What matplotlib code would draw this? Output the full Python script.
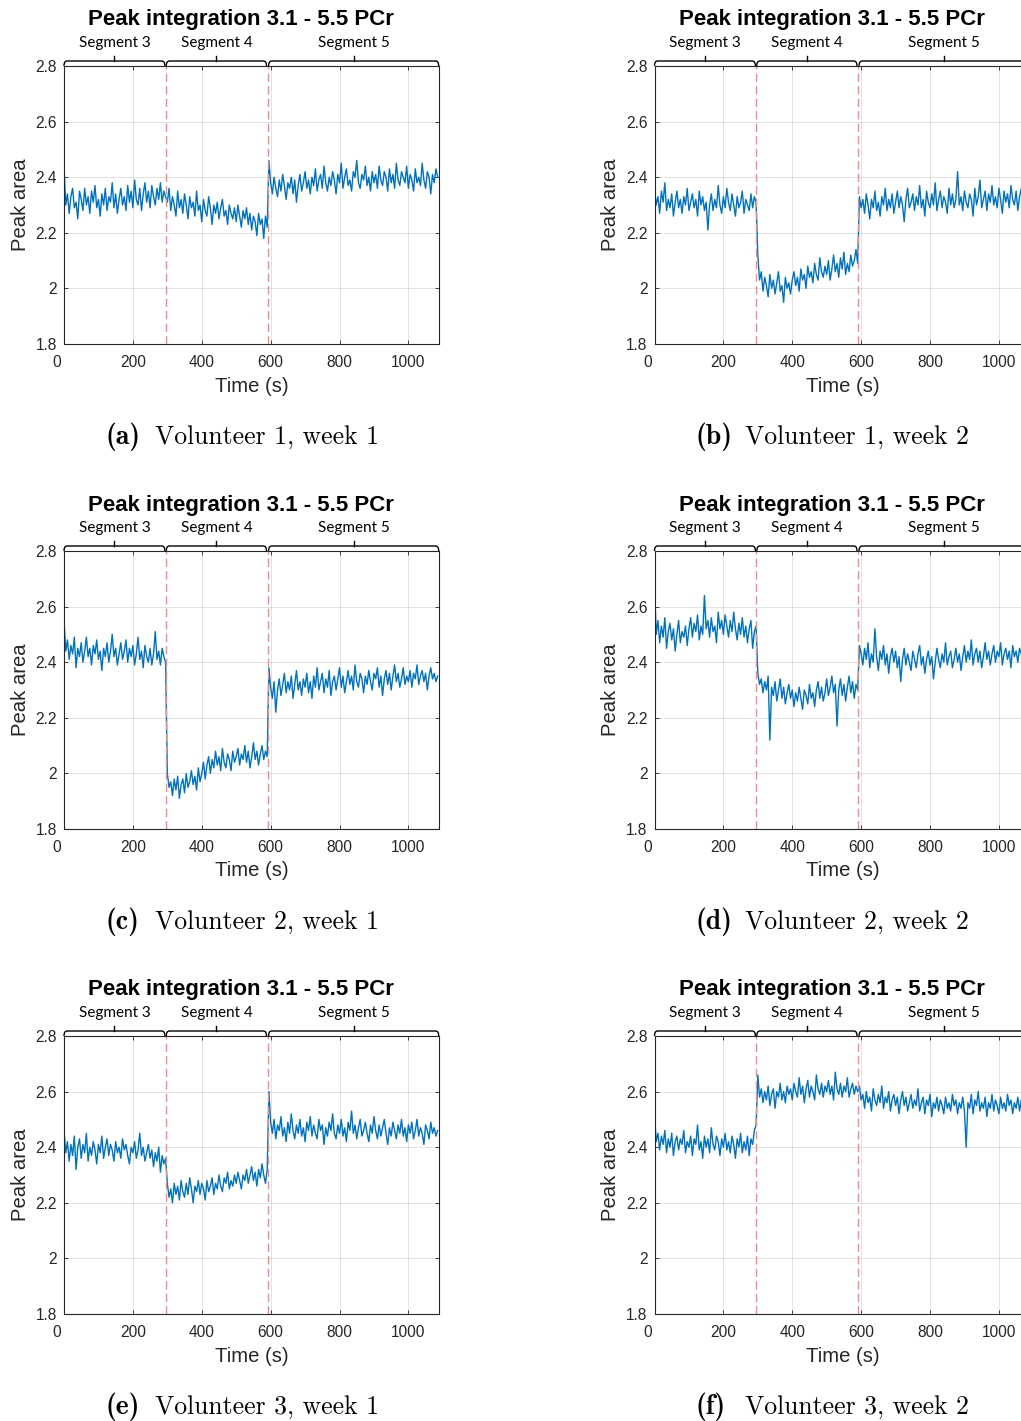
import numpy as np
import matplotlib.pyplot as plt
from matplotlib.path import Path
from matplotlib.patches import PathPatch
from matplotlib.transforms import blended_transform_factory, ScaledTranslation

# values, one every 5 s (0 .. 1085 s)
time_s = np.arange(0, 1090, 5)

vol1_week1 = [
    2.44, 2.30, 2.34, 2.27, 2.33, 2.36, 2.29, 2.31, 2.25, 2.35, 2.32, 2.28, 2.36, 2.30, 2.33, 2.27, 2.35, 2.31, 2.37, 2.29,
    2.32, 2.26, 2.34, 2.30, 2.36, 2.28, 2.33, 2.31, 2.38, 2.29, 2.34, 2.27, 2.32, 2.36, 2.30, 2.33, 2.28, 2.37, 2.31, 2.35,
    2.29, 2.39, 2.32, 2.30, 2.36, 2.28, 2.34, 2.38, 2.31, 2.35, 2.29, 2.37, 2.33, 2.30, 2.36, 2.32, 2.38, 2.31, 2.35, 2.33,
    2.31, 2.36, 2.28, 2.33, 2.30, 2.26, 2.35, 2.29, 2.32, 2.27, 2.34, 2.30, 2.25, 2.33, 2.29, 2.31, 2.26, 2.35, 2.28, 2.30,
    2.24, 2.32, 2.28, 2.26, 2.33, 2.29, 2.23, 2.30, 2.27, 2.31, 2.25, 2.29, 2.32, 2.26, 2.28, 2.23, 2.30, 2.27, 2.25, 2.29,
    2.24, 2.30, 2.26, 2.22, 2.28, 2.25, 2.29, 2.23, 2.27, 2.21, 2.26, 2.24, 2.19, 2.27, 2.23, 2.25, 2.18, 2.26, 2.22,
    2.46, 2.38, 2.34, 2.40, 2.36, 2.33, 2.39, 2.35, 2.41, 2.37, 2.32, 2.38, 2.36, 2.40, 2.34, 2.39, 2.31, 2.37, 2.41, 2.35,
    2.38, 2.42, 2.36, 2.39, 2.34, 2.40, 2.37, 2.43, 2.35, 2.39, 2.41, 2.36, 2.44, 2.38, 2.35, 2.40, 2.37, 2.42, 2.39, 2.34,
    2.41, 2.38, 2.45, 2.36, 2.40, 2.43, 2.37, 2.39, 2.35, 2.42, 2.40, 2.46, 2.38, 2.36, 2.41, 2.39, 2.44, 2.37, 2.40, 2.35,
    2.42, 2.38, 2.41, 2.36, 2.44, 2.39, 2.37, 2.42, 2.40, 2.35, 2.43, 2.38, 2.41, 2.36, 2.45, 2.39, 2.37, 2.42, 2.40, 2.38,
    2.44, 2.36, 2.41, 2.39, 2.35, 2.43, 2.38, 2.40, 2.37, 2.45, 2.39, 2.36, 2.42, 2.40, 2.34, 2.41, 2.38, 2.43, 2.40,
]

vol1_week2 = [
    2.36, 2.30, 2.33, 2.27, 2.35, 2.31, 2.38, 2.28, 2.32, 2.29, 2.34, 2.26, 2.31, 2.35, 2.29, 2.32, 2.27, 2.33, 2.30, 2.36,
    2.28, 2.31, 2.34, 2.29, 2.32, 2.26, 2.35, 2.30, 2.33, 2.28, 2.31, 2.21, 2.30, 2.34, 2.28, 2.32, 2.29, 2.37, 2.30, 2.27,
    2.33, 2.29, 2.36, 2.31, 2.28, 2.34, 2.30, 2.26, 2.33, 2.29, 2.31, 2.35, 2.27, 2.32, 2.30, 2.28, 2.34, 2.29, 2.33, 2.31,
    2.12, 2.03, 2.06, 1.99, 2.04, 2.01, 1.97, 2.05, 2.00, 2.03, 1.98, 2.02, 2.06, 1.99, 2.01, 1.95, 2.04, 2.00, 2.02, 1.98,
    2.03, 2.06, 2.01, 2.04, 1.99, 2.07, 2.03, 2.05, 2.00, 2.08, 2.04, 2.06, 2.02, 2.09, 2.05, 2.03, 2.11, 2.06, 2.04, 2.08,
    2.05, 2.10, 2.03, 2.07, 2.12, 2.06, 2.09, 2.04, 2.11, 2.07, 2.13, 2.05, 2.09, 2.06, 2.12, 2.08, 2.10, 2.14, 2.09,
    2.33, 2.29, 2.32, 2.27, 2.34, 2.30, 2.25, 2.32, 2.29, 2.35, 2.28, 2.31, 2.26, 2.33, 2.30, 2.36, 2.28, 2.32, 2.29, 2.34,
    2.27, 2.31, 2.35, 2.29, 2.33, 2.30, 2.24, 2.32, 2.36, 2.29, 2.31, 2.34, 2.28, 2.33, 2.30, 2.37, 2.29, 2.32, 2.26, 2.35,
    2.31, 2.29, 2.34, 2.30, 2.38, 2.28, 2.32, 2.35, 2.29, 2.33, 2.31, 2.27, 2.36, 2.30, 2.34, 2.29, 2.32, 2.42, 2.30, 2.33,
    2.28, 2.35, 2.31, 2.29, 2.34, 2.32, 2.26, 2.36, 2.30, 2.33, 2.39, 2.29, 2.32, 2.35, 2.28, 2.34, 2.31, 2.37, 2.30, 2.33,
    2.29, 2.36, 2.32, 2.27, 2.35, 2.31, 2.34, 2.29, 2.37, 2.32, 2.30, 2.35, 2.28, 2.33, 2.36, 2.30, 2.34, 2.31, 2.35,
]

vol2_week1 = [
    2.55, 2.44, 2.48, 2.41, 2.46, 2.43, 2.49, 2.38, 2.45, 2.42, 2.47, 2.40, 2.44, 2.49, 2.42, 2.45, 2.39, 2.46, 2.43, 2.48,
    2.41, 2.44, 2.37, 2.45, 2.42, 2.47, 2.40, 2.44, 2.50, 2.42, 2.45, 2.39, 2.43, 2.47, 2.41, 2.44, 2.48, 2.40, 2.45, 2.42,
    2.46, 2.39, 2.43, 2.49, 2.41, 2.44, 2.38, 2.46, 2.42, 2.40, 2.45, 2.39, 2.43, 2.51, 2.41, 2.44, 2.39, 2.45, 2.42, 2.40,
    2.00, 1.95, 1.97, 1.92, 1.98, 1.94, 1.99, 1.91, 1.96, 1.98, 1.93, 2.00, 1.95, 1.97, 2.01, 1.96, 1.99, 1.94, 2.02, 1.97,
    2.00, 2.04, 1.98, 2.03, 2.06, 2.00, 2.05, 2.02, 2.08, 2.03, 2.06, 2.01, 2.09, 2.04, 2.02, 2.07, 2.05, 2.01, 2.08, 2.04,
    2.06, 2.09, 2.03, 2.07, 2.05, 2.10, 2.04, 2.08, 2.02, 2.06, 2.11, 2.05, 2.08, 2.03, 2.07, 2.10, 2.05, 2.08, 2.06,
    2.38, 2.31, 2.27, 2.33, 2.22, 2.30, 2.34, 2.28, 2.32, 2.36, 2.29, 2.33, 2.30, 2.35, 2.27, 2.32, 2.37, 2.30, 2.33, 2.28,
    2.34, 2.31, 2.36, 2.29, 2.33, 2.27, 2.35, 2.31, 2.38, 2.30, 2.33, 2.36, 2.29, 2.34, 2.31, 2.37, 2.28, 2.33, 2.35, 2.30,
    2.34, 2.38, 2.31, 2.35, 2.29, 2.33, 2.37, 2.32, 2.35, 2.30, 2.39, 2.33, 2.31, 2.36, 2.34, 2.29, 2.35, 2.32, 2.37, 2.33,
    2.30, 2.36, 2.34, 2.38, 2.31, 2.35, 2.28, 2.34, 2.37, 2.32, 2.36, 2.30, 2.35, 2.39, 2.33, 2.36, 2.31, 2.34, 2.38, 2.32,
    2.35, 2.33, 2.37, 2.31, 2.36, 2.34, 2.39, 2.32, 2.35, 2.37, 2.33, 2.36, 2.30, 2.35, 2.38, 2.34, 2.36, 2.33, 2.35,
]

vol2_week2 = [
    2.68, 2.50, 2.55, 2.47, 2.53, 2.49, 2.56, 2.45, 2.51, 2.54, 2.48, 2.52, 2.44, 2.50, 2.55, 2.47, 2.51, 2.49, 2.53, 2.46,
    2.52, 2.56, 2.49, 2.54, 2.51, 2.57, 2.48, 2.53, 2.50, 2.64, 2.52, 2.55, 2.49, 2.56, 2.51, 2.53, 2.47, 2.58, 2.52, 2.55,
    2.50, 2.57, 2.53, 2.49, 2.55, 2.51, 2.58, 2.52, 2.48, 2.54, 2.50, 2.56, 2.49, 2.53, 2.47, 2.52, 2.55, 2.45, 2.51, 2.53,
    2.36, 2.32, 2.34, 2.29, 2.33, 2.30, 2.35, 2.12, 2.31, 2.28, 2.33, 2.26, 2.30, 2.34, 2.27, 2.31, 2.25, 2.29, 2.32, 2.27,
    2.30, 2.24, 2.29, 2.26, 2.31, 2.27, 2.23, 2.30, 2.28, 2.25, 2.32, 2.27, 2.29, 2.24, 2.30, 2.33, 2.27, 2.31, 2.26, 2.29,
    2.34, 2.28, 2.31, 2.35, 2.29, 2.32, 2.17, 2.30, 2.34, 2.28, 2.32, 2.26, 2.31, 2.35, 2.29, 2.33, 2.27, 2.32, 2.30,
    2.46, 2.43, 2.39, 2.45, 2.41, 2.47, 2.38, 2.43, 2.40, 2.52, 2.42, 2.37, 2.44, 2.41, 2.46, 2.39, 2.43, 2.36, 2.42, 2.45,
    2.40, 2.44, 2.38, 2.42, 2.33, 2.41, 2.45, 2.39, 2.43, 2.40, 2.37, 2.44, 2.41, 2.38, 2.43, 2.46, 2.39, 2.42, 2.36, 2.41,
    2.44, 2.39, 2.42, 2.34, 2.40, 2.45, 2.41, 2.38, 2.43, 2.40, 2.47, 2.39, 2.42, 2.44, 2.38, 2.41, 2.45, 2.40, 2.43, 2.37,
    2.42, 2.46, 2.40, 2.44, 2.41, 2.48, 2.39, 2.43, 2.45, 2.40, 2.44, 2.38, 2.42, 2.47, 2.41, 2.44, 2.39, 2.43, 2.46, 2.40,
    2.44, 2.42, 2.47, 2.39, 2.43, 2.45, 2.41, 2.44, 2.38, 2.46, 2.42, 2.44, 2.40, 2.45, 2.43, 2.39, 2.44, 2.42, 2.41,
]

vol3_week1 = [
    2.46, 2.38, 2.42, 2.35, 2.41, 2.37, 2.44, 2.32, 2.40, 2.43, 2.36, 2.41, 2.38, 2.45, 2.35, 2.40, 2.37, 2.42, 2.39, 2.34,
    2.41, 2.38, 2.44, 2.36, 2.40, 2.43, 2.37, 2.41, 2.39, 2.35, 2.42, 2.38, 2.40, 2.36, 2.43, 2.39, 2.41, 2.37, 2.34, 2.40,
    2.38, 2.42, 2.36, 2.39, 2.45, 2.37, 2.40, 2.35, 2.38, 2.41, 2.36, 2.39, 2.33, 2.38, 2.35, 2.40, 2.31, 2.37, 2.34, 2.36,
    2.27, 2.22, 2.25, 2.20, 2.27, 2.23, 2.26, 2.21, 2.28, 2.24, 2.22, 2.27, 2.23, 2.29, 2.25, 2.20, 2.26, 2.24, 2.28, 2.23,
    2.27, 2.25, 2.21, 2.28, 2.24, 2.26, 2.29, 2.23, 2.27, 2.25, 2.30, 2.26, 2.24, 2.29, 2.27, 2.31, 2.25, 2.28, 2.26, 2.30,
    2.27, 2.31, 2.28, 2.25, 2.30, 2.28, 2.32, 2.27, 2.30, 2.33, 2.28, 2.31, 2.26, 2.32, 2.29, 2.34, 2.30, 2.27, 2.32,
    2.60, 2.49, 2.45, 2.50, 2.43, 2.48, 2.46, 2.51, 2.44, 2.47, 2.42, 2.49, 2.45, 2.52, 2.46, 2.43, 2.48, 2.45, 2.50, 2.44,
    2.47, 2.42, 2.49, 2.46, 2.51, 2.44, 2.48, 2.45, 2.43, 2.50, 2.46, 2.48, 2.41, 2.47, 2.44, 2.49, 2.46, 2.52, 2.45, 2.43,
    2.48, 2.45, 2.50, 2.44, 2.47, 2.42, 2.49, 2.46, 2.53, 2.45, 2.48, 2.43, 2.47, 2.50, 2.44, 2.46, 2.49, 2.45, 2.42, 2.48,
    2.45, 2.51, 2.46, 2.43, 2.48, 2.44, 2.47, 2.50, 2.45, 2.41, 2.47, 2.44, 2.49, 2.46, 2.43, 2.48, 2.45, 2.50, 2.44, 2.47,
    2.42, 2.48, 2.45, 2.49, 2.43, 2.46, 2.50, 2.44, 2.47, 2.45, 2.41, 2.48, 2.46, 2.43, 2.49, 2.45, 2.47, 2.44, 2.46,
]

vol3_week2 = [
    2.52, 2.42, 2.45, 2.39, 2.44, 2.41, 2.46, 2.38, 2.43, 2.40, 2.45, 2.37, 2.42, 2.44, 2.39, 2.43, 2.41, 2.46, 2.38, 2.42,
    2.40, 2.44, 2.37, 2.43, 2.41, 2.48, 2.39, 2.42, 2.36, 2.44, 2.40, 2.43, 2.38, 2.47, 2.41, 2.39, 2.44, 2.42, 2.37, 2.43,
    2.40, 2.45, 2.39, 2.42, 2.38, 2.44, 2.41, 2.36, 2.43, 2.40, 2.45, 2.38, 2.42, 2.39, 2.44, 2.37, 2.43, 2.41, 2.46, 2.48,
    2.66, 2.58, 2.61, 2.56, 2.60, 2.57, 2.62, 2.55, 2.59, 2.61, 2.54, 2.60, 2.58, 2.63, 2.57, 2.60, 2.56, 2.62, 2.59, 2.61,
    2.57, 2.63, 2.60, 2.58, 2.65, 2.59, 2.62, 2.56, 2.61, 2.64, 2.58, 2.62, 2.60, 2.57, 2.66, 2.61, 2.59, 2.63, 2.58, 2.62,
    2.60, 2.64, 2.59, 2.62, 2.57, 2.67, 2.61, 2.59, 2.63, 2.58, 2.62, 2.60, 2.65, 2.58, 2.61, 2.63, 2.59, 2.62, 2.60,
    2.62, 2.57, 2.59, 2.54, 2.60, 2.56, 2.58, 2.53, 2.61, 2.57, 2.55, 2.59, 2.56, 2.62, 2.54, 2.58, 2.56, 2.60, 2.53, 2.57,
    2.59, 2.55, 2.58, 2.52, 2.57, 2.60, 2.55, 2.58, 2.53, 2.56, 2.59, 2.54, 2.57, 2.55, 2.61, 2.53, 2.56, 2.58, 2.52, 2.57,
    2.55, 2.59, 2.51, 2.56, 2.54, 2.58, 2.53, 2.57, 2.55, 2.52, 2.58, 2.54, 2.56, 2.53, 2.59, 2.55, 2.57, 2.52, 2.56, 2.54,
    2.58, 2.53, 2.40, 2.56, 2.54, 2.59, 2.52, 2.57, 2.55, 2.60, 2.53, 2.56, 2.54, 2.58, 2.51, 2.56, 2.54, 2.59, 2.53, 2.57,
    2.55, 2.52, 2.58, 2.54, 2.56, 2.53, 2.59, 2.55, 2.57, 2.52, 2.56, 2.54, 2.58, 2.53, 2.57, 2.55, 2.52, 2.56, 2.55,
]

panels = [vol1_week1, vol1_week2, vol2_week1, vol2_week2, vol3_week1, vol3_week2]
letters = ['(a)', '(b)', '(c)', '(d)', '(e)', '(f)']
captions = ['Volunteer 1, week 1', 'Volunteer 1, week 2',
            'Volunteer 2, week 1', 'Volunteer 2, week 2',
            'Volunteer 3, week 1', 'Volunteer 3, week 2']

segment_edges = [0, 296, 591, 1088]
segment_names = ['Segment 3', 'Segment 4', 'Segment 5']
xticks = [0, 200, 400, 600, 800, 1000]
yticks = [1.8, 2.0, 2.2, 2.4, 2.6, 2.8]
ytick_labels = ['1.8', '2', '2.2', '2.4', '2.6', '2.8']

W, H = 1021, 1421
fig = plt.figure(figsize=(W / 100, H / 100), dpi=100)
dark = '#262626'
blue = '#0072BD'


def bracket(ax, x0, x1, name):
    # curly-ish bracket sitting on top of the axes
    tr = blended_transform_factory(ax.transData, ax.transAxes)
    h = 5 / 278
    c = 9
    verts = [(x0, 1), (x0, 1 + h), (x0 + c, 1 + h), (x1 - c, 1 + h), (x1, 1 + h), (x1, 1)]
    codes = [Path.MOVETO, Path.CURVE3, Path.CURVE3, Path.LINETO, Path.CURVE3, Path.CURVE3]
    ax.add_patch(PathPatch(Path(verts, codes), fill=False, lw=1.0, color='black',
                           transform=tr, clip_on=False))
    mid = (x0 + x1) / 2
    ax.plot([mid, mid], [1 + h, 1 + 2 * h], color='black', lw=1.0, transform=tr, clip_on=False)
    ax.text(mid, 1 + 23 / 278, name, transform=tr, ha='center', va='center',
            fontsize=11, family='Lato')


for i, vals in enumerate(panels):
    r, c = divmod(i, 2)
    left = 64 + c * 590.5
    top = 66 + r * 485
    ax = fig.add_axes([left / W, 1 - (top + 278) / H, 374.7 / W, 278 / H])
    ax.plot(time_s, vals, color=blue, lw=1.0)
    for xb in segment_edges[1:3]:
        ax.axvline(xb, color='#f08c8c', lw=1.0, dashes=(6, 3))
    ax.set_xlim(0, 1088)
    ax.set_ylim(1.8, 2.8)
    ax.set_xticks(xticks)
    ax.set_yticks(yticks)
    ax.set_yticklabels(ytick_labels)
    ax.set_axisbelow(True)
    ax.grid(True, color=dark, alpha=0.13, lw=0.7)
    ax.tick_params(direction='in', length=3, width=0.6, top=True, right=True,
                   colors=dark, labelsize=11.2, labelfontfamily='Liberation Sans')
    ax.tick_params(axis='x', pad=8)
    ax.tick_params(axis='y', pad=5)
    for sp in ax.spines.values():
        sp.set_color(dark)
        sp.set_linewidth(0.8)
    # MATLAB nudges the "0" label to the left
    lab0 = ax.get_xticklabels()[0]
    lab0.set_transform(lab0.get_transform() + ScaledTranslation(-0.07, 0, fig.dpi_scale_trans))

    ax.set_xlabel('Time (s)', fontsize=14.6, family='Liberation Sans', color=dark, va='center')
    ax.xaxis.set_label_coords(0.502, -42 / 278)
    ax.set_ylabel('Peak area', fontsize=14.6, family='Liberation Sans', color=dark, va='center')
    ax.yaxis.set_label_coords(-44 / 374.7, 0.5)

    spans = [(0, 293), (297, 588), (594, 1088)]
    for (x0, x1), name in zip(spans, segment_names):
        bracket(ax, x0, x1, name)

    fig.text((left + 177) / W, 1 - (20 + r * 485) / H, 'Peak integration 3.1 - 5.5 PCr',
             ha='center', va='center', fontsize=16, fontweight='bold', family='Liberation Sans')
    fig.text((105 + c * 590) / W, 1 - (444 + r * 485) / H, letters[i],
             ha='left', va='baseline', fontsize=20, family='cmb10')
    fig.text((155 + c * 590) / W, 1 - (444 + r * 485) / H, captions[i],
             ha='left', va='baseline', fontsize=18.5, family='cmr10')

fig.savefig('out.png', dpi=100)
